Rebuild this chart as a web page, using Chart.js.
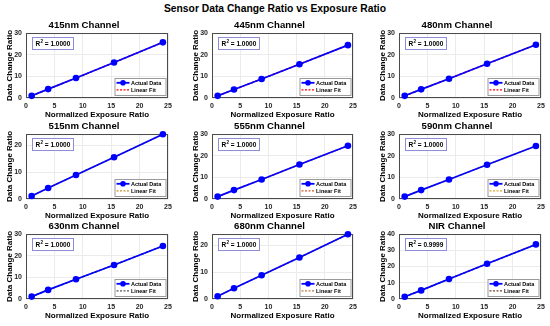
<!DOCTYPE html>
<html>
<head>
<meta charset="utf-8">
<script src="https://cdn.jsdelivr.net/npm/chart.js@4.4.1/dist/chart.umd.min.js"></script>
<style>
  body { margin: 0; background: #fff; }
  #wrap { position: relative; width: 550px; height: 326px; overflow: hidden; font-family: "Liberation Sans", Arial, sans-serif; }
  #mainTitle { position: absolute; left: 0; top: 3px; width: 550px; text-align: center; font-weight: bold; font-size: 10.3px; color: #000; }
  .cell { position: absolute; }
</style>
</head>
<body>
<div id="wrap">
  <div id="mainTitle">Sensor Data Change Ratio vs Exposure Ratio</div>
</div>
<script>
// data
const channels = ["415nm", "445nm", "480nm", "515nm", "555nm", "590nm", "630nm", "680nm", "NIR"];
const exposure = [1.0, 3.9, 8.8, 15.5, 24.1];
const ratio415 = [1.0, 4.1, 9.2, 16.4, 25.7];
const ratio445 = [1.0, 3.9, 8.8, 15.6, 24.4];
const ratio480 = [1.0, 4.0, 8.9, 15.8, 24.6];
const ratio515 = [1.1, 4.1, 8.9, 15.5, 24.0];
const ratio555 = [1.1, 4.1, 9.0, 15.9, 24.6];
const ratio590 = [1.1, 4.1, 9.0, 15.8, 24.5];
const ratio630 = [1.1, 4.2, 9.1, 15.7, 24.5];
const ratio680 = [1.0, 4.0, 8.8, 15.4, 24.0];
const ratioNIR = [1.4, 5.3, 12.3, 21.7, 33.6];
const r2Values = ["1.0000", "1.0000", "1.0000", "1.0000", "1.0000", "1.0000", "1.0000", "1.0000", "0.9999"];
const yMaxes = [30, 30, 30, 24.1, 30, 30, 30, 24.1, 40];
const xTicks = [0, 5, 10, 15, 20, 25];

const allRatios = [ratio415, ratio445, ratio480, ratio515, ratio555, ratio590, ratio630, ratio680, ratioNIR];
const fitColors = ["#ff0000", "#ff0000", "#ff0000", "#c8902a", "#e0502a", "#d8a830", "#555555", "#c07838", "#704028"];

// subplot geometry (plot area in page pixels)
const colLeft = [26, 212, 399];
const colWidth = [142, 141, 142];
const rowTop = [33, 134, 234];
const plotH = 65;
const yAxisW = 26, xAxisH = 22, titleH = 13, padRight = 8;

const FONT = "'Liberation Sans', Arial, sans-serif";

const boxes = {
  id: "boxes",
  beforeDatasetsDraw(chart) {
    const { ctx, chartArea: a } = chart;
    ctx.save();
    ctx.strokeStyle = "#4a4a4a";
    ctx.lineWidth = 1;
    ctx.strokeRect(a.left + 0.5, a.top + 0.5, a.width - 1, a.height - 1);
    ctx.restore();
  },
  afterDraw(chart, args, opts) {
    const { ctx, chartArea: a } = chart;
    ctx.save();
    // R^2 box
    const bx = a.left + 6, by = a.top + 4;
    ctx.fillStyle = "#fff";
    ctx.fillRect(bx, by, 41, 12);
    ctx.strokeStyle = "#8c8cd8";
    ctx.lineWidth = 1;
    ctx.strokeRect(bx + 0.5, by + 0.5, 41, 12);
    ctx.fillStyle = "#000";
    ctx.textBaseline = "middle";
    ctx.font = "bold 6.5px " + FONT;
    let tx = bx + 3.5;
    const ty = by + 6.8;
    ctx.fillText("R", tx, ty);
    tx += ctx.measureText("R").width;
    ctx.font = "bold 4.5px " + FONT;
    ctx.fillText("2", tx + 0.3, ty - 2.5);
    tx += ctx.measureText("2").width + 0.3;
    ctx.font = "bold 6.5px " + FONT;
    ctx.fillText(" = " + opts.r2, tx, ty);

    // legend (bottom right, inside the axes)
    const ds = chart.data.datasets;
    const lw = 51, lh = 17;
    const lx = a.right - lw - 2.5, ly = a.bottom - lh - 3;
    ctx.fillStyle = "#fff";
    ctx.fillRect(lx, ly, lw, lh);
    ctx.strokeStyle = "#9a9a9a";
    ctx.strokeRect(lx + 0.5, ly + 0.5, lw, lh);
    ctx.font = "bold 5.5px " + FONT;
    ctx.fillStyle = "#000";
    const r1 = ly + 4.8, r2 = ly + 11.8;
    ctx.strokeStyle = ds[0].borderColor;
    ctx.lineWidth = 1.8;
    ctx.beginPath(); ctx.moveTo(lx + 2, r1); ctx.lineTo(lx + 15, r1); ctx.stroke();
    ctx.fillStyle = ds[0].backgroundColor;
    ctx.beginPath(); ctx.arc(lx + 8.5, r1, 2.8, 0, Math.PI * 2); ctx.fill();
    ctx.fillStyle = "#000";
    ctx.fillText(ds[0].label, lx + 16.5, r1 + 0.3);
    ctx.strokeStyle = ds[1].borderColor;
    ctx.lineWidth = 1.2;
    ctx.setLineDash([2, 1.5]);
    ctx.beginPath(); ctx.moveTo(lx + 2, r2); ctx.lineTo(lx + 15, r2); ctx.stroke();
    ctx.setLineDash([]);
    ctx.fillText(ds[1].label, lx + 16.5, r2 + 0.3);
    ctx.restore();
  }
};

const wrap = document.getElementById("wrap");

channels.forEach((name, i) => {
  const col = i % 3, row = Math.floor(i / 3);
  const w = yAxisW + colWidth[col] + padRight;
  const h = titleH + plotH + xAxisH;
  const div = document.createElement("div");
  div.className = "cell";
  div.style.left = (colLeft[col] - yAxisW) + "px";
  div.style.top = (rowTop[row] - titleH) + "px";
  div.style.width = w + "px";
  div.style.height = h + "px";
  const canvas = document.createElement("canvas");
  canvas.width = w;
  canvas.height = h;
  div.appendChild(canvas);
  wrap.appendChild(div);

  const ys = allRatios[i];
  const pts = exposure.map((x, k) => ({ x: x, y: ys[k] }));

  new Chart(canvas, {
    type: "scatter",
    data: {
      datasets: [
        {
          label: "Actual Data",
          data: pts,
          showLine: true,
          borderColor: "#0000ff",
          backgroundColor: "#0000ff",
          borderWidth: 1.7,
          pointRadius: 3.3,
          pointBorderWidth: 0,
          clip: false,
        },
        {
          label: "Linear Fit",
          data: pts,
          showLine: true,
          borderColor: fitColors[i],
          borderWidth: 1.5,
          borderDash: [3, 1.5],
          pointRadius: 0,
          clip: false,
        },
      ],
    },
    options: {
      responsive: false,
      animation: false,
      layout: { padding: { top: 0, right: padRight, bottom: 0, left: 0 } },
      plugins: {
        legend: { display: false },
        tooltip: { enabled: false },
        title: {
          display: true,
          text: name + " Channel",
          color: "#000",
          font: { family: FONT, size: 9.6, weight: "bold", lineHeight: 1.2 },
          padding: { top: 0, bottom: 1.5 },
        },
        boxes: { r2: r2Values[i] },
      },
      scales: {
        x: {
          type: "linear",
          min: 0,
          max: 25,
          afterFit: (s) => { s.height = xAxisH; },
          afterBuildTicks: (s) => { s.ticks = xTicks.map((v) => ({ value: v })); },
          grid: { color: "#ebebeb", drawTicks: false },
          border: { display: false },
          ticks: { color: "#262626", padding: 3.5, maxRotation: 0, font: { family: FONT, size: 7, weight: "bold" } },
          title: {
            display: true,
            text: "Normalized Exposure Ratio",
            color: "#000",
            font: { family: FONT, size: 8, weight: "bold", lineHeight: 1.2 },
            padding: { top: 0, bottom: 0.3 },
          },
        },
        y: {
          min: 0,
          max: yMaxes[i],
          afterFit: (s) => { s.width = yAxisW; },
          grid: { color: "#ebebeb", drawTicks: false },
          border: { display: false },
          ticks: { stepSize: 10, includeBounds: false, color: "#262626", padding: 4, font: { family: FONT, size: 7, weight: "bold" } },
          title: {
            display: true,
            text: "Data Change Ratio",
            color: "#000",
            font: { family: FONT, size: 8, weight: "bold", lineHeight: 1.2 },
            padding: { top: 4.7, bottom: 0 },
          },
        },
      },
    },
    plugins: [boxes],
  });
});
</script>
</body>
</html>
